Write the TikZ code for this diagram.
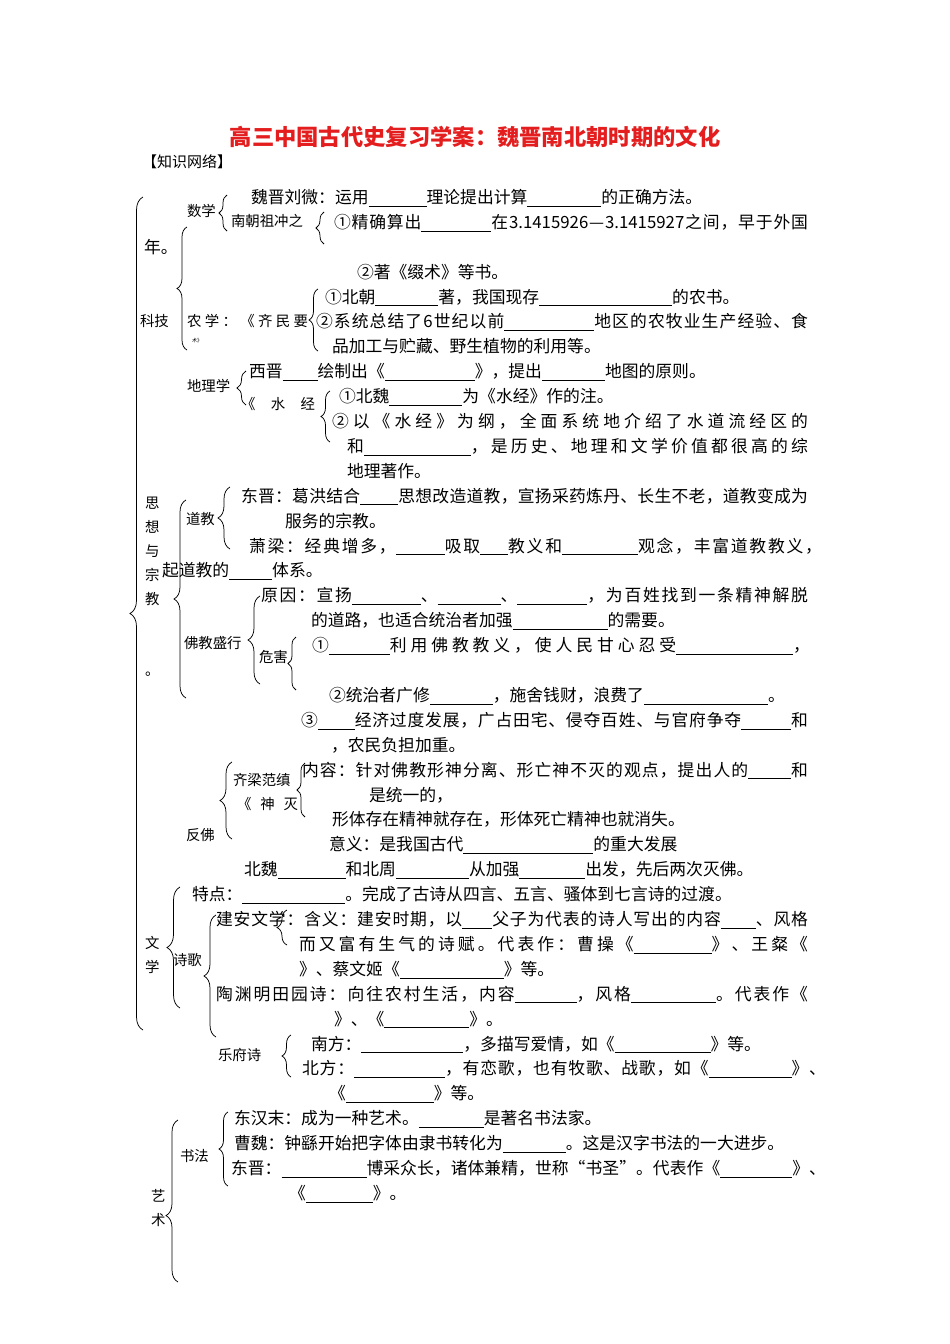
\documentclass[tikz,border=0pt]{standalone}
\usepackage{fontspec}
\setmainfont{Noto Sans CJK SC}
\usetikzlibrary{decorations.pathreplacing}
\newXeTeXintercharclass\myCJK
\newcount\cjkcc
\newcommand\setcls[2]{\cjkcc=#1\relax\loop\XeTeXcharclass\cjkcc=\myCJK\advance\cjkcc by 1\relax\ifnum\cjkcc<#2\repeat}
\setcls{"4E00}{"A000}
\setcls{"3001}{"3040}
\setcls{"FF01}{"FF60}
\setcls{"2460}{"2474}
\setcls{"2014}{"2015}
\setcls{"201C}{"201E}
\newcommand\IG{\hskip0pt plus 1fil minus 0.4pt\relax}
\XeTeXinterchartoks \myCJK \myCJK = {\IG}
\XeTeXinterchartoks 0 \myCJK = {\IG}
\XeTeXinterchartoks \myCJK 0 = {\IG}
\XeTeXinterchartokenstate=1
\newcommand\bk[1]{\rule[-2.8pt]{#1pt}{0.6pt}}
\newcommand\JL[5]{\node[txt] (#1) at (#2,#3) {\makebox[#4pt][s]{#5}};}
\newcommand\NL[4]{\node[txt] (#1) at (#2,#3) {#4};}
\newcommand\SL[4]{\node[lab] (#1) at (#2,#3) {#4};}
\definecolor{titlered}{RGB}{228,30,30}
\tikzset{
  txt/.style={inner sep=0pt, outer sep=0pt, anchor=base west, font=\fontsize{16.8}{20}\selectfont},
  lab/.style={inner sep=0pt, outer sep=0pt, anchor=base west, font=\fontsize{14.4}{17}\selectfont},
  brc/.style={decorate, decoration={brace, amplitude=#1}, line width=0.75pt},
  brc/.default=9pt
}
\begin{document}
\begin{tikzpicture}[x=1pt,y=-1pt]
\fill[white] (0,0) rectangle (950,1344);
\useasboundingbox (0,0) rectangle (950,1344);
% title
\node[inner sep=0pt, anchor=base, font=\fontsize{22.3}{26}\selectfont\bfseries, text=titlered] (title) at (475,145.5) {高三中国古代史复习学案：魏晋南北朝时期的文化};
\node[inner sep=0pt, anchor=base west, font=\fontsize{15}{18}\selectfont] (kw) at (142,167.7) {【知识网络】};

% ---------- braces ----------
\coordinate (b1t) at (143,197);  \coordinate (b1b) at (143,1030);
\draw[brc=13pt] (b1b) -- (b1t);
\coordinate (b2t) at (187,227);  \coordinate (b2b) at (187,350);
\draw[brc=10pt] (b2b) -- (b2t);
\coordinate (b3t) at (227,195);  \coordinate (b3b) at (227,231);
\draw[brc=8pt] (b3b) -- (b3t);
\coordinate (b4t) at (324,212);  \coordinate (b4b) at (324,244);
\draw[brc=8pt] (b4b) -- (b4t);
\coordinate (b5t) at (318,289);  \coordinate (b5b) at (318,351);
\draw[brc=9pt] (b5b) -- (b5t);
\coordinate (b6t) at (246,371);  \coordinate (b6b) at (246,405);
\draw[brc=9pt] (b6b) -- (b6t);
\coordinate (b7t) at (330,391);  \coordinate (b7b) at (330,442);
\draw[brc=9pt] (b7b) -- (b7t);
\coordinate (b8t) at (186,500);  \coordinate (b8b) at (186,698);
\draw[brc=12pt] (b8b) -- (b8t);
\coordinate (b9t) at (230,487);  \coordinate (b9b) at (230,549);
\draw[brc=12pt] (b9b) -- (b9t);
\coordinate (b10t) at (260,596); \coordinate (b10b) at (260,684);
\draw[brc=12pt] (b10b) -- (b10t);
\coordinate (b11t) at (296,637); \coordinate (b11b) at (296,690);
\draw[brc=8pt] (b11b) -- (b11t);
\coordinate (b12t) at (232,762); \coordinate (b12b) at (232,839);
\draw[brc=12pt] (b12b) -- (b12t);
\coordinate (b13t) at (305,763); \coordinate (b13b) at (305,817);
\draw[brc=8pt] (b13b) -- (b13t);
\coordinate (b14t) at (180,887); \coordinate (b14b) at (180,1008);
\draw[brc=13pt] (b14b) -- (b14t);
\coordinate (b15t) at (216,915); \coordinate (b15b) at (216,1037);
\draw[brc=12pt] (b15b) -- (b15t);
\coordinate (b16t) at (287,910); \coordinate (b16b) at (287,945);
\draw[brc=10pt] (b16b) -- (b16t);
\coordinate (b17t) at (291,1035); \coordinate (b17b) at (291,1077);
\draw[brc=9pt] (b17b) -- (b17t);
\coordinate (b18t) at (178,1120); \coordinate (b18b) at (178,1282);
\draw[decorate, decoration={brace, amplitude=12pt, aspect=0.41}, line width=0.75pt] (b18b) -- (b18t);
\coordinate (b19t) at (228,1112); \coordinate (b19b) at (228,1186);
\draw[brc=9pt] (b19b) -- (b19t);

% ---------- labels ----------
\SL{sx}{187}{216.5}{数学}
\SL{zcz}{231}{226.5}{南朝祖冲之}
\NL{nian}{144}{253.2}{年。}
\SL{kj}{140}{326.5}{科技}
\node[lab] (nx) at (187,326.5) {\makebox[121pt][s]{农\hfill 学\hfill ：\hfill 《\hfill 齐\hfill 民\hfill 要}};
\node[inner sep=0pt, anchor=base west, font=\fontsize{5}{6}\selectfont] (nxs) at (192,342) {术》};
\SL{dlx}{187}{391.5}{地理学}
\node[lab] (sj) at (241,409.5) {\makebox[74pt][s]{《\hfill 水\hfill 经}};
\SL{sx1}{145}{508.5}{思}
\SL{sx2}{145}{532.5}{想}
\SL{sx3}{145}{556.5}{与}
\SL{sx4}{145}{580.5}{宗}
\SL{sx5}{145}{604.5}{教}
\SL{sx6}{145}{675}{。}
\SL{dj}{186}{524.5}{道教}
\SL{fjsx}{184}{648.5}{佛教盛行}
\SL{wh}{259}{662.5}{危害}
\SL{qlfz}{233}{785.5}{齐梁范缜}
\node[lab] (smie) at (237,809.5) {\makebox[61pt][s]{《\hfill 神\hfill 灭}};
\SL{ff}{186}{840.5}{反佛}
\SL{wx1}{145}{948.5}{文}
\SL{wx2}{145}{972.5}{学}
\SL{sg}{173}{965.5}{诗歌}
\SL{yfs}{218}{1060.5}{乐府诗}
\SL{ys1}{151}{1201.5}{艺}
\SL{ys2}{151}{1225.5}{术}
\SL{sf}{180}{1161.5}{书法}

% ---------- main lines ----------
\NL{t0}{251}{203.4}{魏晋刘微：运用\bk{58}理论提出计算\bk{74}的正确方法。}
\JL{t1}{334}{228.3}{474}{①精确算出\bk{70}在3.1415926—3.1415927之间，早于外国}
\NL{t3}{357}{278.1}{②著《缀术》等书。}
\NL{t4}{325}{303.0}{①北朝\bk{63}著，我国现存\bk{133}的农书。}
\JL{t5}{316}{327.9}{492}{②系统总结了6世纪以前\bk{90}地区的农牧业生产经验、食}
\NL{t6}{332}{352.8}{品加工与贮藏、野生植物的利用等。}
\NL{t7}{249}{377.7}{西晋\bk{35}绘制出《\bk{90}》，提出\bk{63}地图的原则。}
\NL{t8}{339}{402.6}{①北魏\bk{73}为《水经》作的注。}
\JL{t9}{332}{427.5}{476}{②以《水经》为纲，全面系统地介绍了水道流经区的}
\JL{t10}{347}{452.4}{461}{和\bk{107}，是历史、地理和文学价值都很高的综}
\NL{t11}{347}{477.3}{地理著作。}
\JL{t12}{241}{502.2}{567}{东晋：葛洪结合\bk{38}思想改造道教，宣扬采药炼丹、长生不老，道教变成为}
\NL{t13}{285}{527.1}{服务的宗教。}
\JL{t14}{249}{552.0}{573}{萧梁：经典增多，\bk{49}吸取\bk{28}教义和\bk{76}观念，丰富道教教义，}
\NL{t15}{162}{576.9}{起道教的\bk{43}体系。}
\JL{t16}{261}{601.8}{547}{原因：宣扬\bk{69}、\bk{63}、\bk{70}，为百姓找到一条精神解脱}
\NL{t17}{311}{626.7}{的道路，也适合统治者加强\bk{95}的需要。}
\JL{t18}{312}{651.6}{498}{①\bk{61}利用佛教教义，使人民甘心忍受\bk{117}，}
\NL{t20}{329}{701.4}{②统治者广修\bk{63}，施舍钱财，浪费了\bk{124}。}
\JL{t21}{301}{726.3}{507}{③\bk{37}经济过度发展，广占田宅、侵夺百姓、与官府争夺\bk{50}和}
\NL{t22}{331}{751.2}{，农民负担加重。}
\JL{t23}{302}{776.1}{506}{内容：针对佛教形神分离、形亡神不灭的观点，提出人的\bk{43}和}
\NL{t24}{369}{801.0}{是统一的，}
\NL{t25}{332}{825.9}{形体存在精神就存在，形体死亡精神也就消失。}
\NL{t26}{329}{850.8}{意义：是我国古代\bk{130}的重大发展}
\NL{t27}{244}{875.7}{北魏\bk{68}和北周\bk{73}从加强\bk{66}出发，先后两次灭佛。}
\NL{t28}{192}{900.6}{特点：\bk{103}。完成了古诗从四言、五言、骚体到七言诗的过渡。}
\JL{t29}{216}{925.5}{592}{建安文学：含义：建安时期，以\bk{30}父子为代表的诗人写出的内容\bk{35}、风格}
\JL{t30}{299}{950.4}{509}{而又富有生气的诗赋。代表作：曹操《\bk{78}》、王粲《}
\NL{t31}{299}{975.3}{》、蔡文姬《\bk{104}》等。}
\JL{t32}{216}{1000.2}{592}{陶渊明田园诗：向往农村生活，内容\bk{62}，风格\bk{85}。代表作《}
\NL{t33}{334}{1025.1}{》、《\bk{85}》。}
\NL{t34}{311}{1050.0}{南方：\bk{102}，多描写爱情，如《\bk{96}》等。}
\JL{t35}{302}{1074.9}{524}{北方：\bk{91}，有恋歌，也有牧歌、战歌，如《\bk{83}》、}
\NL{t36}{329}{1099.8}{《\bk{88}》等。}
\NL{t37}{234}{1124.7}{东汉末：成为一种艺术。\bk{65}是著名书法家。}
\NL{t38}{234}{1149.6}{曹魏：钟繇开始把字体由隶书转化为\bk{63}。这是汉字书法的一大进步。}
\JL{t39}{231}{1174.5}{595}{东晋：\bk{85}博采众长，诸体兼精，世称“书圣”。代表作《\bk{72}》、}
\NL{t40}{289}{1199.4}{《\bk{67}》。}
\end{tikzpicture}
\end{document}
